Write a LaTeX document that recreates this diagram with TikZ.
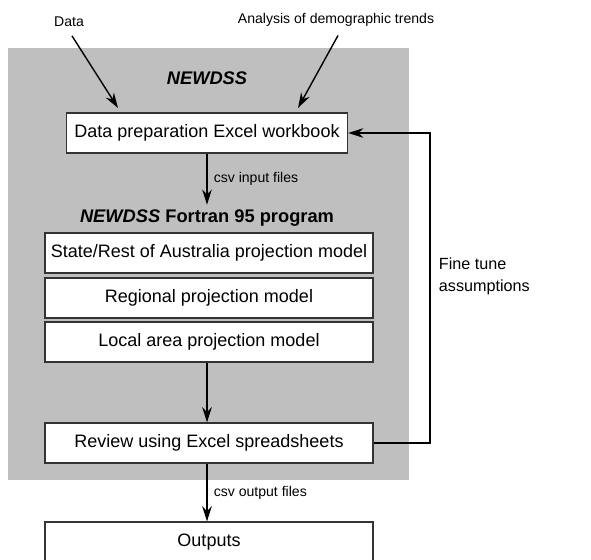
\documentclass[tikz,border=0pt]{standalone}
\usepackage{fontspec}
\setmainfont{Liberation Sans}
\usetikzlibrary{arrows.meta,positioning}
\colorlet{panel}{black!25}
\colorlet{boxline}{black!80}

\begin{document}
\begin{tikzpicture}[
x=0.025cm,y=-0.025cm,
Box/.style={draw=boxline,fill=white,line width=0.9pt,minimum height=1cm,inner sep=0pt,font=\fontsize{12.8}{14}\selectfont},
WideBox/.style={Box,minimum width=8.2cm},
Title/.style={font=\fontsize{13}{15}\selectfont\bfseries},
Small/.style={font=\fontsize{10}{12}\selectfont},
Flow/.style={-{Stealth[length=3.8mm,width=2.4mm]},line width=1pt}
]
\useasboundingbox (0,0) rectangle (591,559);

% grey panel of the model
\fill[panel] (8,48) rectangle (409,480);

% inputs
\node[Small] (data) at (69,22) {Data};
\node[Small] (trends) at (336,20) {Analysis of demographic trends};
\coordinate (dataend) at (118,108);
\coordinate (trendsend) at (298,108);

\node[Title] (newdss) at (207,78) {\itshape NEWDSS};
\node[Box,minimum width=7.025cm] (prep) at (207,133) {Data preparation Excel workbook};

\node[Title] (fortran) at (207,218) {\itshape NEWDSS\/\upshape\ Fortran 95 program};
\node[WideBox] (state) at (209,253) {State/Rest of Australia projection model};
\node[WideBox] (regional) at (209,298) {Regional projection model};
\node[WideBox] (local) at (209,342) {Local area projection model};

\node[WideBox] (review) at (209,443) {Review using Excel spreadsheets};
\node[WideBox] (outputs) at (209,542) {Outputs};

% arrows
\draw[Flow] (data.south) ++(3,4) -- (dataend);
\draw[Flow] (trends.south) ++(2,4) -- (trendsend);

\draw[Flow] (prep.south -| fortran) -- (fortran.north) node[Small,midway,right=1pt]{csv input files};
\draw[Flow] (local.south -| fortran) -- (review.north -| fortran);
\draw[Flow] (review.south -| fortran) -- (outputs.north -| fortran) node[Small,midway,right=1pt]{csv output files};

% feedback loop
\coordinate (loop) at (430,443);
\draw[Flow] (review.east) -- (loop) |- (prep.east);
\node[align=left,anchor=west,font=\fontsize{11.5}{15.5}\selectfont] (tune) at (434,276) {Fine tune\\assumptions};

\end{tikzpicture}
\end{document}
